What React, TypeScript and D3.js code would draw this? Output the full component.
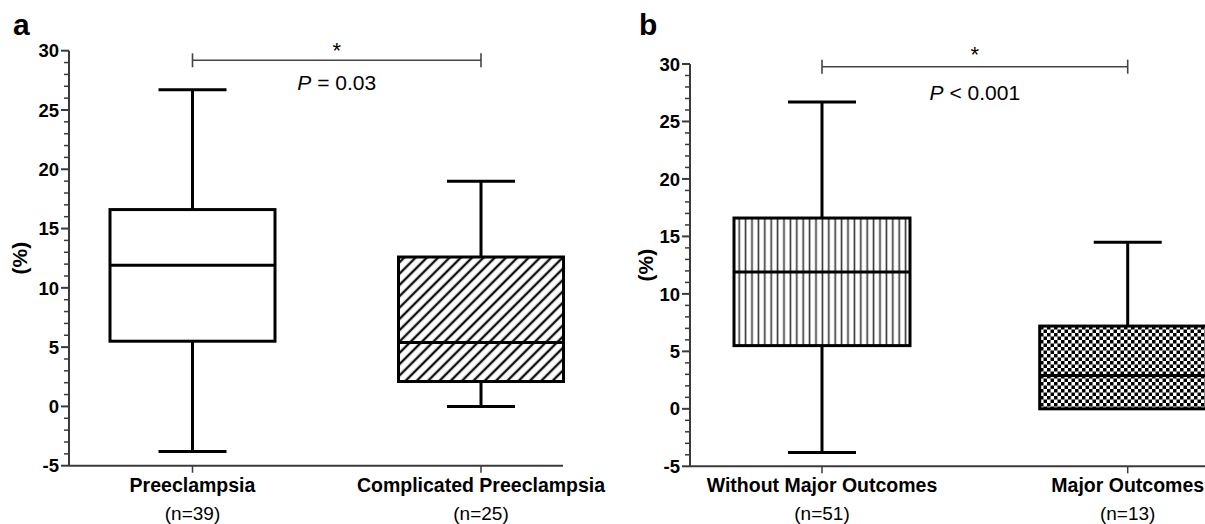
import * as d3 from 'd3';

// panel a
const groupsA = ['Preeclampsia', 'Complicated Preeclampsia'];
const countsA = ['(n=39)', '(n=25)'];
const minA = [-3.8, 0.0];
const q1A = [5.5, 2.1];
const medianA = [11.9, 5.4];
const q3A = [16.6, 12.6];
const maxA = [26.7, 19.0];

// panel b
const groupsB = ['Without Major Outcomes', 'Major Outcomes'];
const countsB = ['(n=51)', '(n=13)'];
const minB = [-3.8, 0.0];
const q1B = [5.5, 0.0];
const medianB = [11.9, 2.9];
const q3B = [16.6, 7.2];
const maxB = [26.7, 14.5];

const yDomain: [number, number] = [-5, 30];
const pTexts = ['= 0.03', '< 0.001'];

const FONT = "'Liberation Sans', Arial, Helvetica, sans-serif";
const AXIS = '#3a3a3a';

interface PanelProps {
  letter: string;
  letterX: number;
  groups: string[];
  counts: string[];
  mins: number[];
  q1s: number[];
  medians: number[];
  q3s: number[];
  maxs: number[];
  fills: string[];
  axisX: number;
  axisEnd: number;
  yTop: number;
  yBottom: number;
  centers: [number, number];
  boxW: number;
  sigY: number;
  starY: number;
  pY: number;
  pText: string;
}

const Panel = (p: PanelProps) => {
  const y = d3.scaleLinear().domain(yDomain).range([p.yBottom, p.yTop]);
  const x = d3.scalePoint<string>().domain(p.groups).range(p.centers);
  const major = d3.range(-5, 31, 5);
  const minor = d3.range(-5, 31, 1).filter((v) => v % 5 !== 0);
  const capW = 68;
  const sx1 = x(p.groups[0])!;
  const sx2 = x(p.groups[1])!;
  const sMid = (sx1 + sx2) / 2;
  const yMid = (p.yTop + p.yBottom) / 2;

  return (
    <g>
      <text x={p.letterX} y={35} fontFamily={FONT} fontWeight="bold" fontSize={30}>
        {p.letter}
      </text>

      {/* boxes */}
      {p.groups.map((g, i) => {
        const cx = x(g)!;
        return (
          <g key={g}>
            <line x1={cx} x2={cx} y1={y(p.maxs[i])} y2={y(p.q3s[i])} stroke="#000" strokeWidth={3} />
            <line x1={cx} x2={cx} y1={y(p.q1s[i])} y2={y(p.mins[i])} stroke="#000" strokeWidth={3} />
            <line x1={cx - capW / 2} x2={cx + capW / 2} y1={y(p.maxs[i])} y2={y(p.maxs[i])} stroke="#000" strokeWidth={3} />
            {p.mins[i] < p.q1s[i] && (
              <line x1={cx - capW / 2} x2={cx + capW / 2} y1={y(p.mins[i])} y2={y(p.mins[i])} stroke="#000" strokeWidth={3} />
            )}
            <rect
              x={cx - p.boxW / 2}
              y={y(p.q3s[i])}
              width={p.boxW}
              height={y(p.q1s[i]) - y(p.q3s[i])}
              fill={p.fills[i]}
              stroke="#000"
              strokeWidth={3}
            />
            <line x1={cx - p.boxW / 2} x2={cx + p.boxW / 2} y1={y(p.medians[i])} y2={y(p.medians[i])} stroke="#000" strokeWidth={3} />
          </g>
        );
      })}

      {/* y axis */}
      <line x1={p.axisX} x2={p.axisX} y1={p.yTop} y2={p.yBottom} stroke={AXIS} strokeWidth={2} />
      {major.map((v) => (
        <g key={'M' + v}>
          <line x1={p.axisX - 8} x2={p.axisX} y1={y(v)} y2={y(v)} stroke={AXIS} strokeWidth={2} />
          <text
            x={p.axisX - 10}
            y={y(v)}
            dy="0.36em"
            textAnchor="end"
            fontFamily={FONT}
            fontWeight="bold"
            fontSize={18.5}
          >
            {v}
          </text>
        </g>
      ))}
      {minor.map((v) => (
        <line key={'m' + v} x1={p.axisX - 5} x2={p.axisX} y1={y(v)} y2={y(v)} stroke={AXIS} strokeWidth={1.5} />
      ))}
      <text
        transform={`translate(${p.letterX + 7},${yMid}) rotate(-90)`}
        textAnchor="middle"
        dy="0.35em"
        fontFamily={FONT}
        fontWeight="bold"
        fontSize={21}
      >
        (%)
      </text>

      {/* x axis */}
      <line x1={p.axisX} x2={p.axisEnd} y1={p.yBottom} y2={p.yBottom} stroke={AXIS} strokeWidth={2} />
      {p.groups.map((g, i) => (
        <g key={'x' + g}>
          <line x1={x(g)} x2={x(g)} y1={p.yBottom} y2={p.yBottom + 7} stroke={AXIS} strokeWidth={1.5} />
          <text x={x(g)} y={492} textAnchor="middle" fontFamily={FONT} fontWeight="bold" fontSize={19.5}>
            {g}
          </text>
          <text x={x(g)} y={520} textAnchor="middle" fontFamily={FONT} fontSize={19}>
            {p.counts[i]}
          </text>
        </g>
      ))}

      {/* significance */}
      <line x1={sx1} x2={sx2} y1={p.sigY} y2={p.sigY} stroke="#444" strokeWidth={1.6} />
      <line x1={sx1} x2={sx1} y1={p.sigY - 7} y2={p.sigY + 7} stroke="#444" strokeWidth={1.6} />
      <line x1={sx2} x2={sx2} y1={p.sigY - 7} y2={p.sigY + 7} stroke="#444" strokeWidth={1.6} />
      <text x={sMid} y={p.starY} textAnchor="middle" dy="0.7em" fontFamily={FONT} fontSize={22}>
        *
      </text>
      <text x={sMid} y={p.pY} textAnchor="middle" fontFamily={FONT} fontSize={21}>
        <tspan fontStyle="italic">P</tspan> {p.pText}
      </text>
    </g>
  );
};

export default function App() {
  return (
    <svg
      width={1205}
      height={524}
      style={{ position: 'absolute', left: 0, top: 0, display: 'block', background: '#fff' }}
    >
      <defs>
        <pattern id="diag" patternUnits="userSpaceOnUse" width={8} height={8} patternTransform="rotate(45)">
          <rect width={8} height={8} fill="#fff" />
          <line x1={4} y1={0} x2={4} y2={8} stroke="#111" strokeWidth={2.4} />
        </pattern>
        <pattern id="vert" patternUnits="userSpaceOnUse" width={6.4} height={10} x={736}>
          <rect width={6.4} height={10} fill="#fff" />
          <line x1={3.2} y1={0} x2={3.2} y2={10} stroke="#333" strokeWidth={1.6} />
        </pattern>
        <pattern id="check" patternUnits="userSpaceOnUse" width={7} height={7} x={1040} y={326}>
          <rect width={7} height={7} fill="#fff" />
          <rect x={0} y={0} width={3.5} height={3.5} fill="#000" />
          <rect x={3.5} y={3.5} width={3.5} height={3.5} fill="#000" />
        </pattern>
      </defs>
      <Panel
        letter="a"
        letterX={13}
        groups={groupsA}
        counts={countsA}
        mins={minA}
        q1s={q1A}
        medians={medianA}
        q3s={q3A}
        maxs={maxA}
        fills={['#fff', 'url(#diag)']}
        axisX={69}
        axisEnd={563}
        yTop={50.7}
        yBottom={465.7}
        centers={[192.5, 481]}
        boxW={165}
        sigY={60.3}
        starY={43}
        pY={90}
        pText={pTexts[0]}
      />
      <Panel
        letter="b"
        letterX={639}
        groups={groupsB}
        counts={countsB}
        mins={minB}
        q1s={q1B}
        medians={medianB}
        q3s={q3B}
        maxs={maxB}
        fills={['url(#vert)', 'url(#check)']}
        axisX={690}
        axisEnd={1205}
        yTop={64}
        yBottom={466.3}
        centers={[822, 1127.7]}
        boxW={176}
        sigY={66.7}
        starY={47}
        pY={100}
        pText={pTexts[1]}
      />
    </svg>
  );
}
